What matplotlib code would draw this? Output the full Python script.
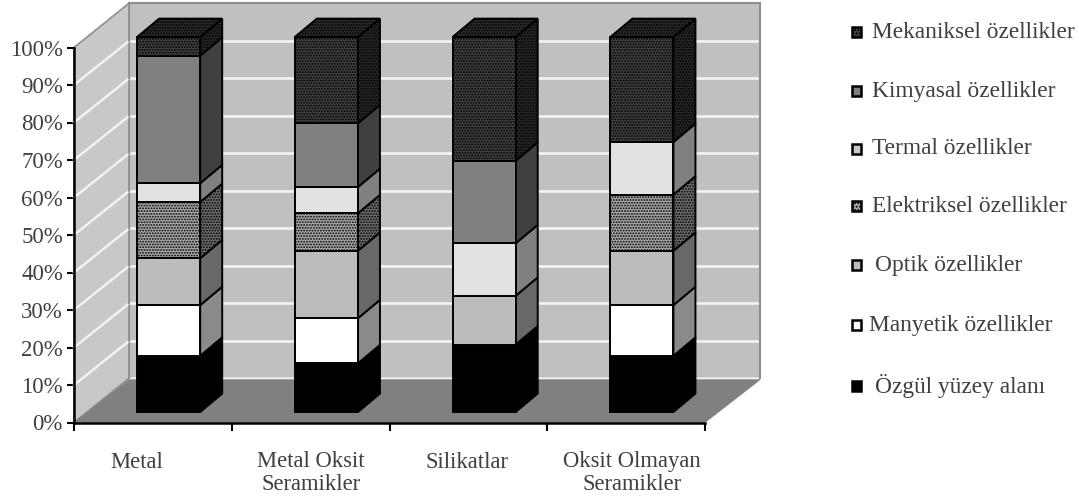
import matplotlib.pyplot as plt
import numpy as np
from matplotlib.patches import Polygon, Rectangle

plt.rcParams['font.family'] = ['Liberation Serif', 'DejaVu Serif']
plt.rcParams['hatch.linewidth'] = 0.9

categories = ["Metal", "Metal Oksit\nSeramikler", "Silikatlar", "Oksit Olmayan\nSeramikler"]
ozgul = [15, 13, 18, 15]
manyetik = [13.5, 12, 0, 13.5]
optik = [12.5, 18, 13, 14.5]
elektriksel = [15, 10, 0, 15]
termal = [5, 7, 14, 14]
kimyasal = [34, 17, 22, 0]
mekaniksel = [5, 23, 33, 28]

W, H = 1079, 499
text_color = '#404040'

fig = plt.figure(figsize=(W / 100, H / 100), dpi=100)
# axes box is the front plane of the 3D-looking chart
ax = fig.add_axes([74 / W, 1 - 422.5 / H, 631 / W, 375 / H])
ax.set_xlim(0, 4)
ax.set_ylim(0, 100)
ax.patch.set_visible(False)

# oblique depth of the walls and of the bars, in data units
wall_dx, wall_dy = 55 / 157.75, 11.8
bar_dx, bar_dy = 22 / 157.75, 4.9
bar_shift_x, bar_shift_y = 0.1, 2.8
width = 0.4

# walls and floor
ax.add_patch(Polygon([(wall_dx, wall_dy), (4 + wall_dx, wall_dy), (4 + wall_dx, 100 + wall_dy), (wall_dx, 100 + wall_dy)],
                     fc='#c0c0c0', ec='#8e8e8e', lw=1.5, clip_on=False, zorder=1))
ax.add_patch(Polygon([(0, 0), (wall_dx, wall_dy), (wall_dx, 100 + wall_dy), (0, 100)],
                     fc='#c8c8c8', ec='#8e8e8e', lw=1.2, clip_on=False, zorder=1))
for v in range(0, 100, 10):
    ax.plot([wall_dx + 0.01, 4 + wall_dx - 0.02], [v + wall_dy, v + wall_dy], color='#f4f4f4', lw=1.9, clip_on=False, zorder=2)
    if v > 0:
        ax.plot([0, wall_dx - 0.01], [v, v + wall_dy - 0.4], color='#f4f4f4', lw=1.7, clip_on=False, zorder=2)
ax.add_patch(Polygon([(0, 0), (4, 0), (4 + wall_dx, wall_dy - 0.4), (wall_dx, wall_dy - 0.4)],
                     fc='#808080', ec='#808080', lw=0.5, clip_on=False, zorder=2))

# (values, front colour, side colour, hatch) from the bottom of the stack up
series = [
    (ozgul, '#000000', '#000000', None),
    (manyetik, '#ffffff', '#8a8a8a', None),
    (optik, '#bcbcbc', '#686868', None),
    (elektriksel, '#a8a8a8', '#6c6c6c', '......'),
    (termal, '#e2e2e2', '#808080', None),
    (kimyasal, '#808080', '#404040', None),
    (mekaniksel, '#404040', '#262626', '......'),
]

x = np.arange(len(categories)) + 0.5 + bar_shift_x
bottom = np.zeros(len(categories))
for values, front, side, hatch in series:
    values = np.array(values, dtype=float)
    ax.bar(x, values, width, bottom=bottom + bar_shift_y, color=front, edgecolor='black',
           linewidth=1.4, hatch=hatch, clip_on=False, zorder=4)
    for xi, b, v in zip(x, bottom, values):
        if v == 0:
            continue
        right = xi + width / 2
        y0 = b + bar_shift_y
        ax.add_patch(Polygon([(right, y0), (right + bar_dx, y0 + bar_dy), (right + bar_dx, y0 + v + bar_dy), (right, y0 + v)],
                             fc=side, ec='black', lw=1.4, hatch=hatch, clip_on=False, zorder=3))
    bottom += values

# top faces of the stacks
for xi, total in zip(x, bottom):
    left, right = xi - width / 2, xi + width / 2
    y0 = total + bar_shift_y
    ax.add_patch(Polygon([(left, y0), (right, y0), (right + bar_dx, y0 + bar_dy), (left + bar_dx, y0 + bar_dy)],
                         fc='#2a2a2a', ec='black', lw=1.4, hatch='......', clip_on=False, zorder=5))

# axis lines and labels
for name in ['top', 'right']:
    ax.spines[name].set_visible(False)
for name in ['left', 'bottom']:
    ax.spines[name].set_linewidth(1.8)
    ax.spines[name].set_zorder(6)
ax.set_yticks(np.arange(0, 101, 10))
ax.set_yticklabels([f"{v}%" for v in range(0, 101, 10)], fontsize=16.5, color=text_color)
ax.set_xticks(range(5))
ax.set_xticklabels([])
ax.tick_params(axis='y', length=5, width=1.5, pad=3)
ax.tick_params(axis='x', length=6, width=1.5)

# first label sits left of its category centre
label_nudge = [-16, 0, -1, 6]
for i, name in enumerate(categories):
    px = 74 + 157.75 * (i + 0.5) + label_nudge[i]
    py = 473 if "\n" in name else 462
    fig.text(px / W, 1 - py / H, name, ha='center', va='center', fontsize=16.3, color=text_color, linespacing=1.15)

# legend, top entry first
legend_labels = ["Mekaniksel özellikler", "Kimyasal özellikler", "Termal özellikler", "Elektriksel özellikler",
                 "Optik özellikler", "Manyetik özellikler", "Özgül yüzey alanı"]
legend_colors = ['#404040', '#808080', '#c8c8c8', '#a8a8a8', '#bcbcbc', '#ffffff', '#000000']
legend_hatch = ['.....', None, None, '.....', None, None, None]
legend_y = [32, 91, 149, 206, 265, 325, 386]
legend_text_x = [872, 872, 872, 872, 875, 869, 875]
for label, col, h, ly, tx in zip(legend_labels, legend_colors, legend_hatch, legend_y, legend_text_x):
    fig.add_artist(Rectangle((852 / W, 1 - (ly + 5) / H), 9 / W, 10 / H, transform=fig.transFigure,
                             fc=col, ec='black', lw=1.8, hatch=h))
    fig.text(tx / W, 1 - ly / H, label, ha='left', va='center', fontsize=16.8, color=text_color)

fig.savefig('out.png', dpi=100)
